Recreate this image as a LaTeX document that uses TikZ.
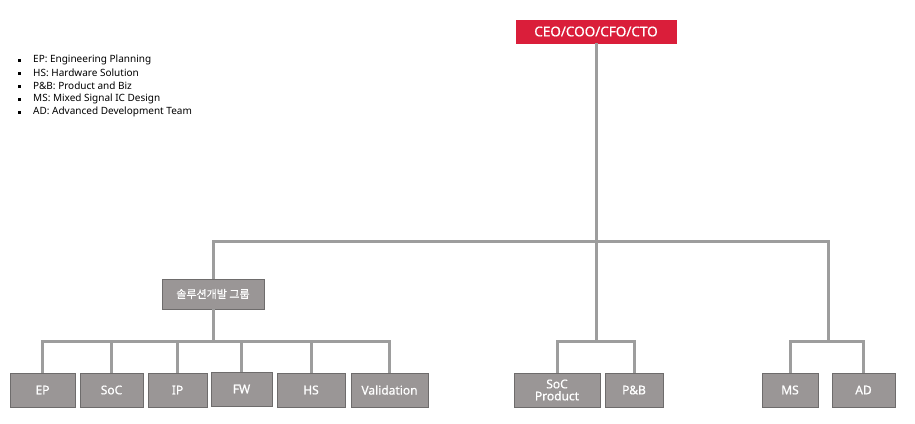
\documentclass[tikz,border=0pt]{standalone}
\usepackage{fontspec}
\setmainfont{Noto Sans}
\newfontfamily\boxfont[FakeBold=0.7]{Noto Sans}
\newfontfamily\krfont[FakeBold=0.7]{Noto Sans CJK KR}
\usetikzlibrary{positioning}
\definecolor{ceored}{HTML}{DA1E3A}
\definecolor{boxgray}{HTML}{9A9696}
\definecolor{boxedge}{HTML}{6E6C6C}
\definecolor{linegray}{HTML}{9D9D9D}

\begin{document}
\begin{tikzpicture}[x=1pt, y=-1pt,
    unit/.style={draw=boxedge, fill=boxgray, text=white, line width=0.8pt, minimum height=34, inner sep=1pt, align=center, font=\boxfont\fontsize{12}{12}\selectfont},
    link/.style={draw=linegray, line width=3pt},
    legend/.style={anchor=west, inner sep=0pt, font=\fontsize{10}{11}\selectfont}]
    \useasboundingbox (0,0) rectangle (915,423);

    % Legende
    \foreach \txt [count=\i] in {EP: Engineering Planning, HS: Hardware Solution, P\&B: Product and Biz, MS: Mixed Signal IC Design, AD: Advanced Development Team}{
        \node[legend] (leg\i) at (33,47+13*\i) {\txt};
        \fill (18,45.5+13*\i) rectangle (21,48.5+13*\i);
    }

    % Spitze
    \node[unit, draw=ceored, fill=ceored, minimum width=160, minimum height=23, font=\boxfont\fontsize{13.5}{13.5}\selectfont] (ceo) at (596,31.5) {CEO/COO/CFO/CTO};
    \node[unit, minimum width=102, minimum height=30, font=\krfont\fontsize{11}{11}\selectfont] (group) at (213,294) {솔루션개발 그룹};

    % Teams
    \node[unit, minimum width=65] (ep) at (42.5,390) {EP};
    \node[unit, minimum width=63] (soc) at (111.5,390) {SoC};
    \node[unit, minimum width=59] (ip) at (177.5,390) {IP};
    \node[unit, minimum width=61] (fw) at (241.5,389) {FW};
    \node[unit, minimum width=68] (hs) at (311,390) {HS};
    \node[unit, minimum width=77] (val) at (389.5,390) {Validation};
    \node[unit, minimum width=86] (socp) at (557,390) {SoC\\Product};
    \node[unit, minimum width=58] (pb) at (634,390) {P\&B};
    \node[unit, minimum width=56] (ms) at (790,390) {MS};
    \node[unit, minimum width=63] (ad) at (863.5,390) {AD};

    \coordinate (top) at (596,241);
    \coordinate (busR) at (828,241);
    \coordinate (solJ) at (213,341);
    \coordinate (prodJ) at (596,341);
    \coordinate (ipJ) at (828,341);

    % Linien
    \draw[link] (ceo.south) -- (top);
    \draw[link] (group.north) |- (busR) -- (ipJ);
    \draw[link] (group.south) -- (solJ);
    \draw[link] (top) -- (prodJ);
    \draw[link] (ep.north) |- (solJ) -| (val.north);
    \foreach \n in {soc,ip,fw,hs}
        \draw[link] (\n.north) -- (\n.north |- solJ);
    \draw[link] (socp.north) |- (prodJ) -| (pb.north);
    \draw[link] (ms.north) |- (ipJ) -| (ad.north);
\end{tikzpicture}
\end{document}
